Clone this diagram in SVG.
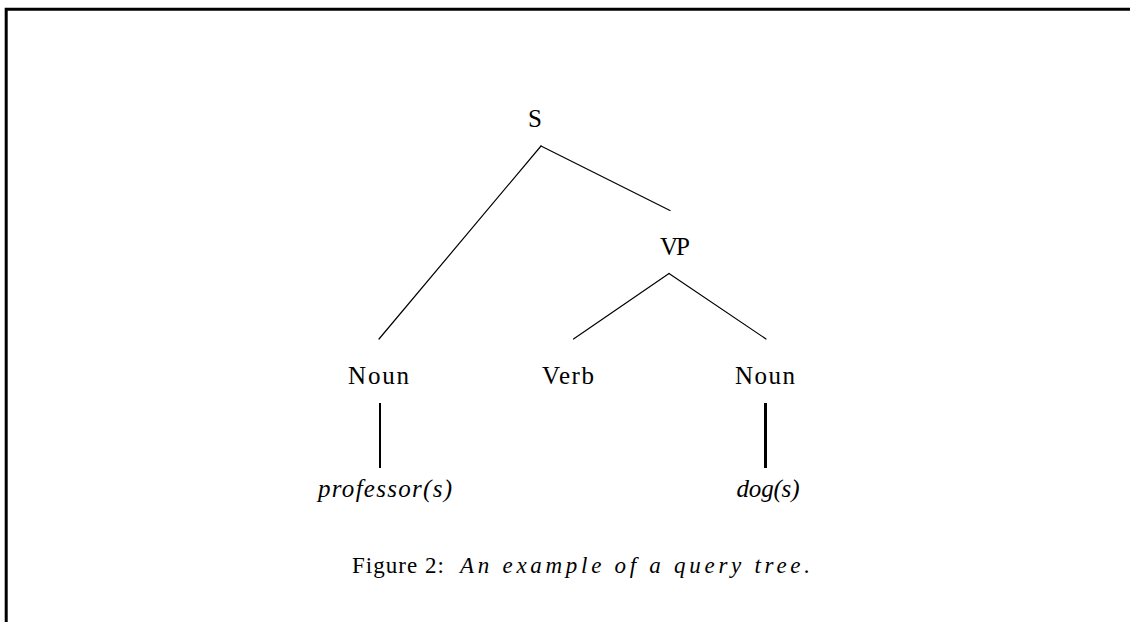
<svg xmlns="http://www.w3.org/2000/svg" width="1130" height="622" viewBox="0 0 1130 622">
  <style>
    .lbl { font-family: "Liberation Serif", "DejaVu Serif", serif; font-size: 25px; fill: #000; text-anchor: middle; }
    .cap { font-family: "Liberation Serif", "DejaVu Serif", serif; font-size: 23px; fill: #000; }
    .it { font-style: italic; }
    .edge { stroke: #000; stroke-width: 1.2; fill: none; stroke-linecap: round; }
    .leaf { stroke: #000; fill: none; }
    .frame { stroke: #000; stroke-width: 3; fill: none; }
  </style>
  <rect width="1130" height="622" fill="#fff"/>

  <!-- page frame: top and left rules -->
  <path class="frame" d="M6.2,622 V9.3 H1130"/>

  <!-- tree edges -->
  <g id="connectors">
    <line class="edge" x1="541" y1="146" x2="379" y2="339"/>
    <line class="edge" x1="541" y1="146" x2="670" y2="210.5"/>
    <line class="edge" x1="669" y1="273.5" x2="573.5" y2="339"/>
    <line class="edge" x1="669" y1="273.5" x2="766" y2="339"/>
    <line class="leaf" x1="380" y1="403" x2="380" y2="468" stroke-width="2"/>
    <line class="leaf" x1="765.5" y1="403" x2="765.5" y2="468" stroke-width="3"/>
  </g>

  <g id="node-s"><text class="lbl" x="535" y="127" textLength="13">S</text></g>
  <g id="node-vp"><text class="lbl" x="675" y="255" textLength="30">VP</text></g>
  <g id="node-noun1"><text class="lbl" x="378.5" y="384" textLength="61">Noun</text></g>
  <g id="node-verb"><text class="lbl" x="568" y="384" textLength="52">Verb</text></g>
  <g id="node-noun2"><text class="lbl" x="765" y="384" textLength="60">Noun</text></g>
  <g id="node-professor"><text class="lbl it" x="385" y="497" textLength="134">professor(s)</text></g>
  <g id="node-dog"><text class="lbl it" x="768" y="497" textLength="63">dog(s)</text></g>

  <!-- caption -->
  <g id="caption">
    <text class="cap" x="352" y="573" textLength="92">Figure 2:</text>
    <text class="cap it" x="460" y="573" textLength="350">An example of a query tree.</text>
  </g>
</svg>
